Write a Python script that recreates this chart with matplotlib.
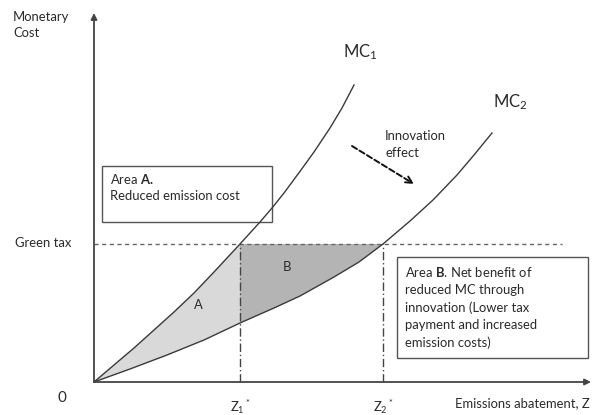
import matplotlib
matplotlib.use("Agg")
import matplotlib.pyplot as plt
from matplotlib.patches import Polygon, Rectangle

plt.rcParams['font.family'] = ['Lato', 'DejaVu Sans']
plt.rcParams['mathtext.fontset'] = 'custom'
plt.rcParams['mathtext.rm'] = 'Lato'
plt.rcParams['mathtext.it'] = 'Lato'
plt.rcParams['mathtext.bf'] = 'Lato:bold'

# ---- data (arbitrary units) ----
mc1_z = [0, 20, 40, 60, 80, 100, 120, 146, 166, 178, 190, 207, 220, 236, 248, 260]
mc1_c = [0, 17, 34, 52, 70, 89, 110, 138, 160, 174, 189, 212, 230, 254, 274, 297]
mc2_z = [0, 36, 73, 110, 146, 180, 206, 240, 265, 289, 316, 339, 363, 380, 398]
mc2_c = [0, 13, 27, 42, 59, 74, 86, 105, 120, 138, 161, 182, 207, 227, 249]
z1_star = 146
z2_star = 289
green_tax = 138

TXT = '#2a2a2a'
LINE = '#3a3a3a'

fig = plt.figure(figsize=(5.96, 4.15), dpi=100)
ax = fig.add_axes([0, 0, 1, 1])
ax.set_xlim(-94, 502)
ax.set_ylim(-33, 382)
ax.axis('off')

# filled areas
A_poly = [(z, c) for z, c in zip(mc1_z, mc1_c) if z <= z1_star] + \
         [(z, c) for z, c in zip(mc2_z, mc2_c) if z <= z1_star][::-1]
ax.add_patch(Polygon(A_poly, closed=True, facecolor='#d9d9d9', edgecolor='none', zorder=1))
B_poly = [(z1_star, green_tax), (z2_star, green_tax)] + \
         [(z, c) for z, c in zip(mc2_z, mc2_c) if z1_star <= z <= z2_star][::-1]
ax.add_patch(Polygon(B_poly, closed=True, facecolor='#b4b4b4', edgecolor='none', zorder=1))

# curves
ax.plot(mc1_z, mc1_c, color=LINE, lw=1.0, zorder=3)
ax.plot(mc2_z, mc2_c, color=LINE, lw=1.0, zorder=3)

# green tax line and vertical guides
ax.plot([0, 468], [green_tax, green_tax], color='#666666', lw=1.0,
        dashes=(3, 2.5), zorder=2)
for z in (z1_star, z2_star):
    ax.plot([z, z], [0, green_tax], color='#444444', lw=1.0,
            dashes=(6, 2, 1, 2), zorder=2)

# axes with arrows
ax.annotate('', xy=(0, 369), xytext=(0, 0),
            arrowprops=dict(arrowstyle='-|>', color='#444444', lw=1.3,
                            mutation_scale=9, shrinkA=0, shrinkB=0), zorder=4)
ax.annotate('', xy=(497, 0), xytext=(0, 0),
            arrowprops=dict(arrowstyle='-|>', color='#444444', lw=1.3,
                            mutation_scale=9, shrinkA=0, shrinkB=0), zorder=4)

# innovation arrow
ax.annotate('', xy=(320, 198), xytext=(258, 236),
            arrowprops=dict(arrowstyle='->', color='#111111', lw=1.4,
                            linestyle=(0, (3, 1.5)), mutation_scale=12,
                            shrinkA=0, shrinkB=0), zorder=4)

# boxes
ax.add_patch(Rectangle((8, 160), 170, 56, facecolor='white', edgecolor='#555555',
                       lw=1.0, zorder=2))
ax.add_patch(Rectangle((303, 24), 191, 101, facecolor='white', edgecolor='#555555',
                       lw=1.0, zorder=2))

fs = 9.4
ax.text(16, 203, r'Area $\mathbf{A.}$', fontsize=fs, color=TXT, va='center', ha='left', zorder=5)
ax.text(16, 186, 'Reduced emission cost', fontsize=fs, color=TXT, va='center', ha='left', zorder=5)

b_lines = [r'Area $\mathbf{B}$. Net benefit of', 'reduced MC through',
           'innovation (Lower tax', 'payment and increased', 'emission costs)']
for i, s in enumerate(b_lines):
    ax.text(311, 110 - i * 17.7, s, fontsize=fs, color=TXT, va='center', ha='left', zorder=5)

# labels
ax.text(-81, 365, 'Monetary', fontsize=fs, color=TXT, va='center', ha='left')
ax.text(-81, 349, 'Cost', fontsize=fs, color=TXT, va='center', ha='left')
ax.text(-79, green_tax + 1, 'Green tax', fontsize=fs, color=TXT, va='center', ha='left')
ax.text(-32, -16, '0', fontsize=11, color=TXT, va='center', ha='center')
ax.text(z1_star, -25, r'Z$_1$$^*$', fontsize=fs, color=TXT, va='center', ha='center')
ax.text(z2_star, -25, r'Z$_2$$^*$', fontsize=fs, color=TXT, va='center', ha='center')
ax.text(496, -21, 'Emissions abatement, Z', fontsize=fs, color=TXT, va='center', ha='right')
ax.text(249, 330, r'MC$_1$', fontsize=12, color=TXT, va='center', ha='left')
ax.text(399, 280, r'MC$_2$', fontsize=12, color=TXT, va='center', ha='left')
ax.text(291, 246, 'Innovation', fontsize=fs, color=TXT, va='center', ha='left')
ax.text(291, 229, 'effect', fontsize=fs, color=TXT, va='center', ha='left')
ax.text(104, 77, 'A', fontsize=fs, color=TXT, va='center', ha='center', zorder=5)
ax.text(193, 115, 'B', fontsize=fs, color=TXT, va='center', ha='center', zorder=5)

fig.savefig('out.png', dpi=100)
